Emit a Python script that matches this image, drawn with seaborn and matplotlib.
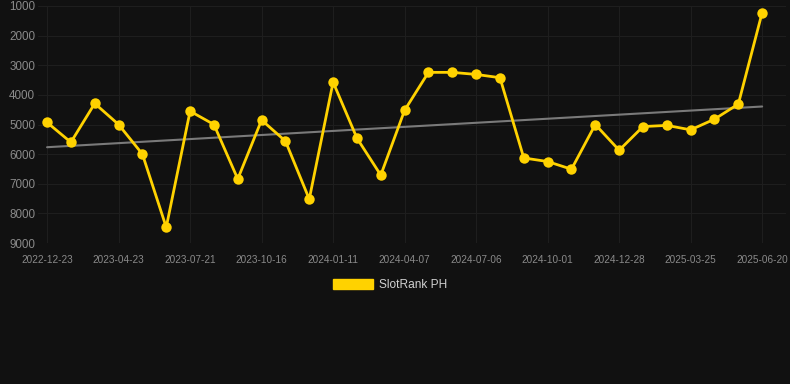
import numpy as np
import pandas as pd
import matplotlib.pyplot as plt
import seaborn as sns
from matplotlib.patches import Patch

# rank per sample (lower = better, axis is reversed)
ranks = [4930, 5600, 4290, 5000, 6000, 8470, 4550, 5000, 6840, 4850,
         5560, 7520, 3570, 5460, 6710, 4520, 3240, 3240, 3310, 3420,
         6130, 6250, 6510, 5000, 5870, 5070, 5030, 5180, 4820, 4310, 1220]
tick_labels = ["2022-12-23", "2023-04-23", "2023-07-21", "2023-10-16", "2024-01-11",
               "2024-04-07", "2024-07-06", "2024-10-01", "2024-12-28", "2025-03-25",
               "2025-06-20"]
y_ticks = [1000, 2000, 3000, 4000, 5000, 6000, 7000, 8000, 9000]
series_name = "SlotRank PH"

bg = "#111111"
gold = "#FFD200"

sns.set_theme(style="dark")
plt.rcParams['font.family'] = ['Liberation Sans', 'DejaVu Sans']

df = pd.DataFrame({"idx": np.arange(len(ranks)), "rank": ranks})
slope, intercept = np.polyfit(df["idx"], df["rank"], 1)
df["trend"] = intercept + slope * df["idx"]

fig = plt.figure(figsize=(7.9, 3.84), dpi=100, facecolor=bg)
ax = fig.add_axes([38 / 790, 1 - 243 / 384, 748 / 790, 237 / 384])
ax.set_facecolor(bg)

sns.lineplot(data=df, x="idx", y="trend", ax=ax, color="#7a7a7a", linewidth=1.5, zorder=2)
sns.lineplot(data=df, x="idx", y="rank", ax=ax, color=gold, linewidth=2.0,
             marker="o", markersize=7.5, markeredgewidth=0, zorder=3)

ax.set_ylim(9000, 1000)
ax.set_xlim(-0.38, 31.0)
ax.set_yticks(y_ticks)
ax.set_yticklabels([str(v) for v in y_ticks])
ax.set_xticks(np.arange(0, len(ranks), 3))
ax.set_xticklabels(tick_labels)
ax.tick_params(axis="y", colors="#8a8a8a", labelsize=8.4, length=0, pad=2)
ax.tick_params(axis="x", colors="#8a8a8a", labelsize=7.2, length=0, pad=8.5)
ax.grid(True, color="#1e1e1e", linewidth=0.8)
ax.set_xlabel("")
ax.set_ylabel("")
for s in ax.spines.values():
    s.set_visible(False)

fig.legend(handles=[Patch(facecolor=gold, edgecolor=gold, label=series_name)],
           loc="center", bbox_to_anchor=(0.494, 1 - 285 / 384), frameon=False,
           fontsize=8.6, labelcolor="#d0d0d0", handlelength=3.4, handleheight=0.85,
           handletextpad=0.5)

fig.savefig("out.png", dpi=100, facecolor=bg)
